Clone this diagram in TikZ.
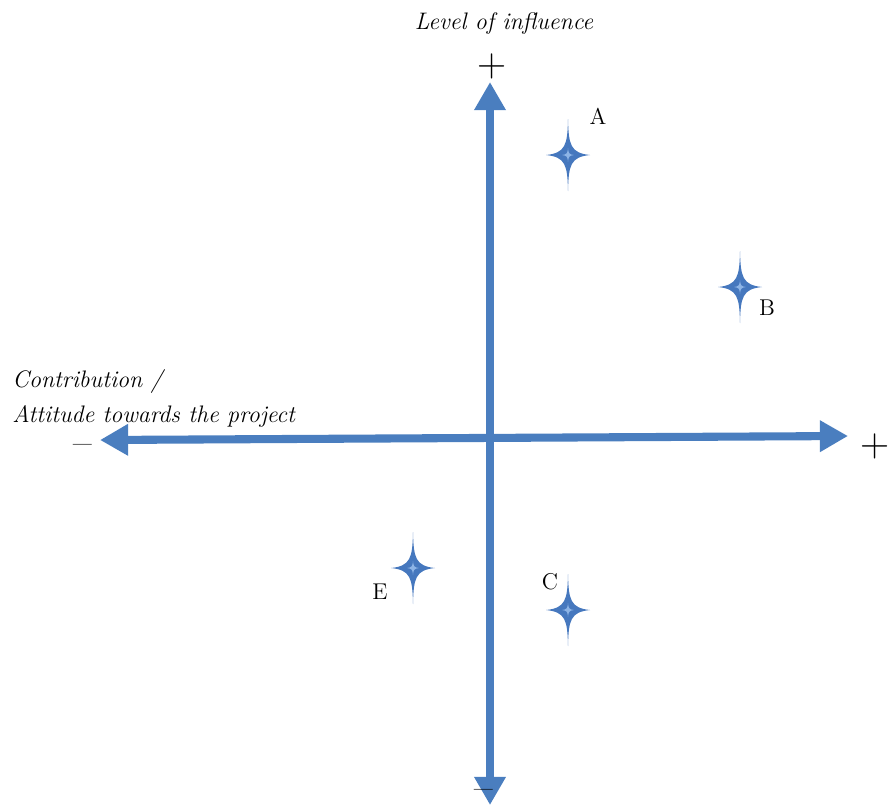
\documentclass[tikz,border=0pt]{standalone}
\usepackage{tikz}
\usepackage{xcolor}
\usetikzlibrary{arrows.meta}
\definecolor{AxisBlue}{HTML}{4A7EBF}
\definecolor{StarBlue}{HTML}{4678BE}
\definecolor{StarLight}{HTML}{8DB4E6}

\begin{document}
\begin{tikzpicture}[
    x=0.02cm, y=-0.02cm,
    axis/.style={{Triangle[length=16pt, width=17pt]}-{Triangle[length=16pt, width=17pt]},
      line width=4.6pt, color=AxisBlue},
    sign/.style={font=\fontsize{23}{23}\selectfont, inner sep=0pt},
    title/.style={font=\fontsize{13.6}{17}\selectfont\itshape, inner sep=0pt, align=left},
    letter/.style={font=\fontsize{13}{13}\selectfont, inner sep=0pt},
    sparkle/.pic={
      \fill[StarBlue] (0,-36) .. controls (0.6,-10) and (2.5,-2) .. (22,0)
        .. controls (2.5,2) and (0.6,10) .. (0,36)
        .. controls (-0.6,10) and (-2.5,2) .. (-22,0)
        .. controls (-2.5,-2) and (-0.6,-10) .. cycle;
      \fill[StarLight] (0,-7) .. controls (0.4,-2) and (1,-0.5) .. (6,0)
        .. controls (1,0.5) and (0.4,2) .. (0,7)
        .. controls (-0.4,2) and (-1,0.5) .. (-6,0)
        .. controls (-1,-0.5) and (-0.4,-2) .. cycle;
    }
  ]
    \useasboundingbox (0,0) rectangle (888,809);

    % axes
    \coordinate (west) at (100,440);
    \coordinate (east) at (848,436);
    \coordinate (north) at (490,82);
    \coordinate (south) at (490,805);
    \draw[axis] (west) -- (east);
    \draw[axis] (north) -- (south);

    \node[sign] (plusN) at (492,66) {+};
    \node[sign] (plusE) at (875,446) {+};
    \node[sign] (minusW) at (83,450) {\textendash};
    \node[sign] (minusS) at (484,795) {\textendash};

    \node[title] (infl) at (504,24) {Level of influence};
    \node[title, anchor=west] (contr) at (12,382) {Contribution /};
    \node[title, anchor=west] (attit) at (12,416) {Attitude towards the project};

    % stakeholders
    \pic at (568,155) {sparkle};
    \pic at (740,287) {sparkle};
    \pic at (413,568) {sparkle};
    \pic at (568,610) {sparkle};

    \node[letter] (A) at (598,116) {A};
    \node[letter] (B) at (767,308) {B};
    \node[letter] (E) at (380,592) {E};
    \node[letter] (C) at (550,582) {C};
  \end{tikzpicture}
\end{document}
